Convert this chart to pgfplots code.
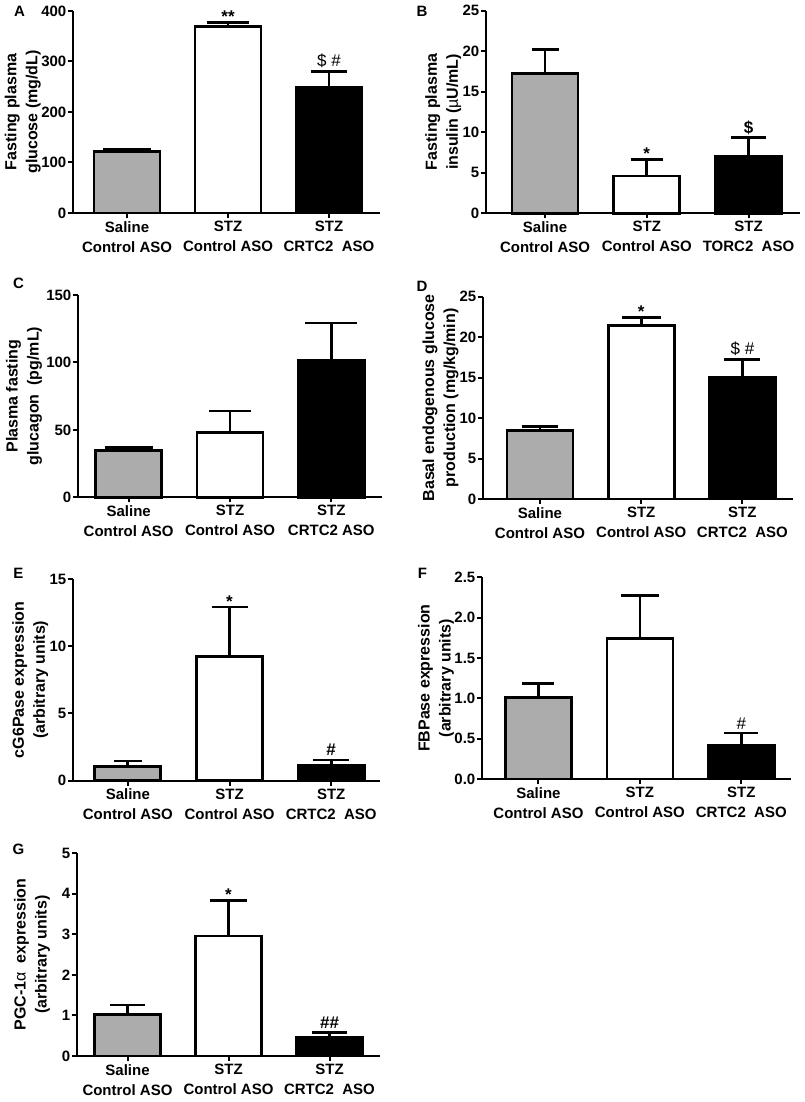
\documentclass[border=0pt]{standalone}
\usepackage{fontspec}
\setmainfont{Liberation Sans}
\usepackage{pgfplots}
\pgfplotsset{compat=1.18}
\definecolor{bargray}{RGB}{172,172,172}
\newcommand{\onebar}[5]{\addplot[ybar, bar width=66pt, bar shift=0pt, fill=#1, draw=black, line width=2.8pt,
  error bars/.cd, y dir=plus, y explicit, error bar style={line width=2.8pt, black},
  error mark options={rotate=90, line width=2.8pt, mark size=#5pt, black}] coordinates {(#2,#3) +- (0,#4)};}
\pgfplotsset{
 panel/.style={
  scale only axis, anchor=south west,
  axis x line*=bottom, axis y line*=left,
  axis line style={line width=2pt, -},
  ymin=0, xtick={0,1,2},
  major tick length=5pt,
  tick style={line width=2pt, black},
  tick align=outside,
  /pgf/number format/assume math mode=true,
  yticklabel style={font=\fontsize{15}{18}\selectfont\bfseries, inner sep=1.5pt},
  xticklabel style={align=center, font=\fontsize{15}{20}\selectfont\bfseries, inner sep=2pt, yshift=-1pt},
  ylabel style={anchor=south, inner sep=0pt, align=center, font=\fontsize{16}{21}\selectfont\bfseries},
  clip=false,
 },
}
\tikzset{
 star/.style={anchor=base, font=\fontsize{17}{18}\selectfont\bfseries},
 sym/.style={anchor=base, font=\fontsize{17}{18}\selectfont},
 symb/.style={anchor=base, font=\fontsize{17}{18}\selectfont\bfseries},
}
\begin{document}
\begin{tikzpicture}[x=1pt,y=1pt]
\useasboundingbox (0,0) rectangle (805,1102);
% Letters
\begin{scope}[every node/.style={font=\fontsize{15}{17}\selectfont\bfseries}]
\node at (19.5,1091) {A};
\node at (422,1091) {B};
\node at (18.5,819) {C};
\node at (422,816) {D};
\node at (18.5,529) {E};
\node at (422.5,528.5) {F};
\node at (18.5,253) {G};
\end{scope}
% A
\begin{axis}[panel, at={(73pt,889pt)}, width=307pt, height=202pt,
  xmin=-0.535, xmax=2.505, ymax=400, ytick={0,100,200,300,400},
  xticklabels={Saline\\Control ASO, STZ\\Control ASO, STZ\\CRTC2\ \ ASO},
  ylabel={Fasting plasma\\glucose (mg/dL)},
  ylabel style={at={(axis description cs:-0.104,0.5)}}]
\onebar{bargray}{0}{121}{4}{24}
\onebar{white}{1}{370}{7}{21}
\onebar{black}{2}{248}{32}{18}
\node[star] at (axis cs:1,377) {**};
\node[sym, yshift=5pt] at (axis cs:2,280) {\$ \#};
\end{axis}
% B
\begin{axis}[panel, at={(486pt,888.7pt)}, width=314pt, height=202.6pt,
  xmin=-0.58, xmax=2.506, ymax=25, ytick={0,5,10,15,20,25},
  xticklabels={Saline\\Control ASO, STZ\\Control ASO, STZ\\TORC2\ \ ASO},
  ylabel={Fasting plasma\\insulin ({\mdseries µ}U/mL)},
  ylabel style={at={(axis description cs:-0.078,0.5)}}]
\onebar{bargray}{0}{17.2}{3.0}{13.5}
\onebar{white}{1}{4.6}{2.0}{16}
\onebar{black}{2}{7.0}{2.4}{17.5}
\node[star] at (axis cs:1,6.6) {*};
\node[symb, yshift=4pt] at (axis cs:2,9.4) {\$};
\end{axis}
% C
\begin{axis}[panel, at={(78pt,604.7pt)}, width=304pt, height=202.3pt,
  xmin=-0.5, xmax=2.5, ymax=150, ytick={0,50,100,150},
  xticklabels={Saline\\Control ASO, STZ\\Control ASO, STZ\\CRTC2 ASO},
  ylabel={Plasma fasting\\glucagon\ \ (pg/mL)},
  ylabel style={at={(axis description cs:-0.118,0.5)}}]
\onebar{bargray}{0}{34.4}{2.4}{24}
\onebar{white}{1}{48}{16}{21}
\onebar{black}{2}{101.2}{28}{26}
\end{axis}
% D
\begin{axis}[panel, at={(483pt,603pt)}, width=310pt, height=202.3pt,
  xmin=-0.563, xmax=2.5, ymax=25, ytick={0,5,10,15,20,25},
  xticklabels={Saline\\Control ASO, STZ\\Control ASO, STZ\\CRTC2\ \ ASO},
  ylabel={Basal endogenous glucose\\production (mg/kg/min)},
  ylabel style={at={(axis description cs:-0.078,0.5)}}]
\onebar{bargray}{0}{8.5}{0.5}{18}
\onebar{white}{1}{21.4}{1.05}{19.5}
\onebar{black}{2}{15.0}{2.2}{18}
\node[star] at (axis cs:1,22.45) {*};
\node[sym, yshift=5pt] at (axis cs:2,17.2) {\$ \#};
\end{axis}
% E
\begin{axis}[panel, at={(73pt,321.3pt)}, width=307pt, height=201.7pt,
  xmin=-0.54, xmax=2.48, ymax=15, ytick={0,5,10,15},
  xticklabels={Saline\\Control ASO, STZ\\Control ASO, STZ\\CRTC2\ \ ASO},
  ylabel={cG6Pase expression\\(arbitrary units)},
  ylabel style={at={(axis description cs:-0.08,0.5)}}]
\onebar{bargray}{0}{1.04}{0.42}{14}
\onebar{white}{1}{9.22}{3.7}{18}
\onebar{black}{2}{1.15}{0.39}{18}
\node[star] at (axis cs:1,12.9) {*};
\node[symb, yshift=4pt] at (axis cs:2,1.54) {\#};
\end{axis}
% F
\begin{axis}[panel, at={(482pt,323pt)}, width=309pt, height=201.7pt,
  xmin=-0.557, xmax=2.49, ymax=2.5, ytick={0,0.5,1,1.5,2,2.5},
  yticklabel style={/pgf/number format/.cd, fixed, fixed zerofill, precision=1},
  xticklabels={Saline\\Control ASO, STZ\\Control ASO, STZ\\CRTC2\ \ ASO},
  ylabel={FBPase expression\\(arbitrary units)},
  ylabel style={at={(axis description cs:-0.09,0.5)}}]
\onebar{bargray}{0}{1.01}{0.17}{16}
\onebar{white}{1}{1.74}{0.53}{19}
\onebar{black}{2}{0.42}{0.15}{17}
\node[sym, yshift=4pt] at (axis cs:2,0.57) {\#};
\end{axis}
% G
\begin{axis}[panel, at={(77pt,46pt)}, width=303pt, height=202.7pt,
  xmin=-0.5, xmax=2.5, ymax=5, ytick={0,1,2,3,4,5},
  xticklabels={Saline\\Control ASO, STZ\\Control ASO, STZ\\CRTC2\ \ ASO},
  ylabel={PGC-1{\mdseries α}\ \ expression\\(arbitrary units)},
  ylabel style={at={(axis description cs:-0.089,0.5)}}]
\onebar{bargray}{0}{1.03}{0.23}{17.5}
\onebar{white}{1}{2.96}{0.87}{18.5}
\onebar{black}{2}{0.45}{0.13}{17.5}
\node[star] at (axis cs:1,3.83) {*};
\node[symb, yshift=4pt] at (axis cs:2,0.58) {\#\#};
\end{axis}
\end{tikzpicture}
\end{document}
